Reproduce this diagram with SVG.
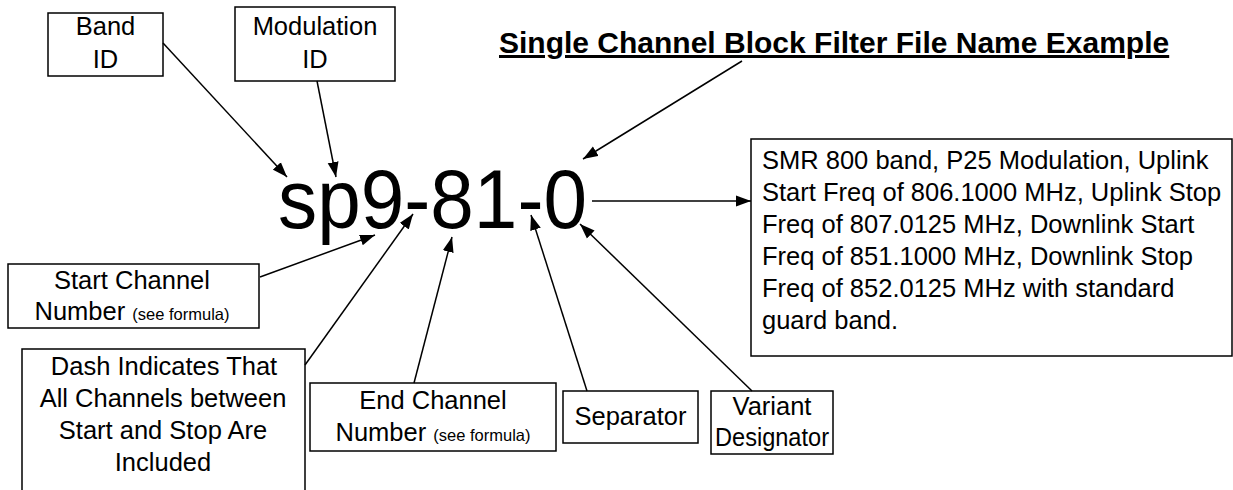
<svg xmlns="http://www.w3.org/2000/svg" width="1233" height="490" viewBox="0 0 1233 490">
<defs>
<marker id="ah" markerUnits="userSpaceOnUse" markerWidth="16" markerHeight="12" refX="15" refY="6" orient="auto">
<path d="M0,0.5 L15,6 L0,11.5 Z" fill="#000"/>
</marker>
<style>
.box{fill:#fff;stroke:#000;stroke-width:1.5}
.t{font-family:"Liberation Sans",Arial,sans-serif;font-size:25.5px;fill:#000;text-anchor:middle}
.tl{font-family:"Liberation Sans",Arial,sans-serif;font-size:25.5px;fill:#000}
.s{font-size:16.5px}
.c{fill:none;stroke:#000;stroke-width:1.5;marker-end:url(#ah)}
</style>
</defs>
<rect width="1233" height="490" fill="#fff"/>
<g id="title">
<text x="499" y="53" font-family="'Liberation Sans',Arial,sans-serif" font-size="30" font-weight="bold" text-decoration="underline">Single Channel Block Filter File Name Example</text>
</g>
<g id="filename">
<text x="278" y="228" font-family="'Liberation Sans',Arial,sans-serif" font-size="84" textLength="309" lengthAdjust="spacingAndGlyphs">sp9-81-0</text>
</g>
<g id="band">
<rect class="box" x="48" y="13" width="115" height="63"/>
<text class="t" x="105.5" y="35">Band</text>
<text class="t" x="105.5" y="68">ID</text>
</g>
<g id="modulation">
<rect class="box" x="235" y="7" width="160" height="74"/>
<text class="t" x="315" y="35">Modulation</text>
<text class="t" x="315" y="68">ID</text>
</g>
<g id="startch">
<rect class="box" x="8" y="264" width="251" height="64"/>
<text class="t" x="132" y="289">Start Channel</text>
<text class="t" x="132" y="320">Number <tspan class="s">(see formula)</tspan></text>
</g>
<g id="dash">
<path class="box" d="M22,490 V349 H305 V490"/>
<text class="t" x="164" y="375">Dash Indicates That</text>
<text class="t" x="163" y="407">All Channels between</text>
<text class="t" x="163" y="439">Start and Stop Are</text>
<text class="t" x="163" y="471">Included</text>
</g>
<g id="endch">
<rect class="box" x="310" y="383" width="246" height="68"/>
<text class="t" x="433" y="409">End Channel</text>
<text class="t" x="433" y="441">Number <tspan class="s">(see formula)</tspan></text>
</g>
<g id="separator">
<rect class="box" x="563" y="391" width="135" height="52"/>
<text class="t" x="630.5" y="425">Separator</text>
</g>
<g id="variant">
<rect class="box" x="711" y="391" width="122" height="63"/>
<text class="t" x="772" y="415">Variant</text>
<text class="t" x="772" y="446" textLength="114" lengthAdjust="spacingAndGlyphs">Designator</text>
</g>
<g id="description">
<rect class="box" x="751" y="139" width="481" height="217"/>
<text class="tl" x="762" y="169">SMR 800 band, P25 Modulation, Uplink</text>
<text class="tl" x="762" y="201">Start Freq of 806.1000 MHz, Uplink Stop</text>
<text class="tl" x="762" y="233">Freq of 807.0125 MHz, Downlink Start</text>
<text class="tl" x="762" y="265">Freq of 851.1000 MHz, Downlink Stop</text>
<text class="tl" x="762" y="297">Freq of 852.0125 MHz with standard</text>
<text class="tl" x="762" y="329">guard band.</text>
</g>
<g id="connectors">
<line class="c" x1="163" y1="43" x2="287" y2="177"/>
<line class="c" x1="317" y1="81" x2="336" y2="177"/>
<line class="c" x1="742" y1="61" x2="583" y2="159"/>
<line class="c" x1="592" y1="201" x2="751" y2="201"/>
<line class="c" x1="260" y1="277" x2="375" y2="235"/>
<line class="c" x1="305" y1="365" x2="413" y2="214"/>
<line class="c" x1="414" y1="383" x2="452" y2="237"/>
<line class="c" x1="587" y1="391" x2="531" y2="215"/>
<line class="c" x1="752" y1="391" x2="580" y2="224"/>
</g>
</svg>
